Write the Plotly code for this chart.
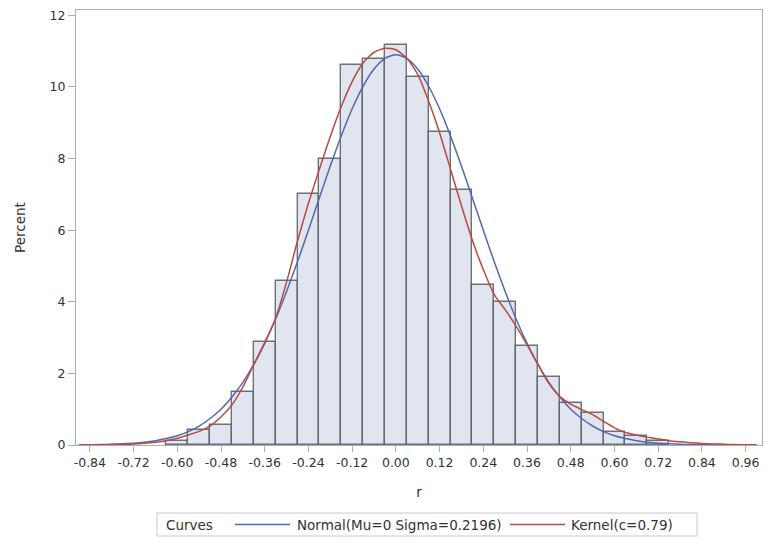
import plotly.graph_objects as go

# Histogram bins (centers, percent)
bin_centers = [-0.60, -0.54, -0.48, -0.42, -0.36, -0.30, -0.24, -0.18, -0.12, -0.06,
               0.00, 0.06, 0.12, 0.18, 0.24, 0.30, 0.36, 0.42, 0.48, 0.54, 0.60, 0.66, 0.72]
bin_percent = [0.11, 0.43, 0.56, 1.47, 2.87, 4.59, 7.02, 8.00, 10.60, 10.79,
               11.18, 10.28, 8.74, 7.13, 4.47, 4.00, 2.76, 1.89, 1.16, 0.90, 0.37, 0.25, 0.10]
bin_width = 0.06

# Curve grid
curve_x = [-0.87, -0.84, -0.81, -0.78, -0.75, -0.72, -0.69, -0.66, -0.63, -0.60,
           -0.57, -0.54, -0.51, -0.48, -0.45, -0.42, -0.39, -0.36, -0.33, -0.30,
           -0.27, -0.24, -0.21, -0.18, -0.15, -0.12, -0.09, -0.06, -0.03, 0.00,
           0.03, 0.06, 0.09, 0.12, 0.15, 0.18, 0.21, 0.24, 0.27, 0.30,
           0.33, 0.36, 0.39, 0.42, 0.45, 0.48, 0.51, 0.54, 0.57, 0.60,
           0.63, 0.66, 0.69, 0.72, 0.75, 0.78, 0.81, 0.84, 0.87, 0.90,
           0.93, 0.96, 0.99]
normal_y = [0.004, 0.007, 0.012, 0.020, 0.032, 0.050, 0.078, 0.12, 0.18, 0.26,
            0.375, 0.53, 0.74, 1.00, 1.34, 1.75, 2.25, 2.84, 3.52, 4.29,
            5.12, 6.00, 6.90, 7.79, 8.63, 9.39, 10.02, 10.50, 10.80, 10.90,
            10.80, 10.50, 10.02, 9.39, 8.63, 7.79, 6.90, 6.00, 5.12, 4.29,
            3.52, 2.84, 2.25, 1.75, 1.34, 1.00, 0.74, 0.53, 0.375, 0.26,
            0.18, 0.12, 0.078, 0.050, 0.032, 0.020, 0.012, 0.007, 0.004, 0.002,
            0.001, 0.0005, 0.0002]
kernel_y = [0.002, 0.004, 0.007, 0.012, 0.020, 0.030, 0.050, 0.080, 0.12, 0.19,
            0.28, 0.38, 0.53, 0.78, 1.12, 1.62, 2.25, 2.86, 3.55, 4.55,
            5.70, 6.75, 7.70, 8.62, 9.45, 10.15, 10.67, 10.97, 11.08, 11.04,
            10.80, 10.35, 9.60, 8.72, 7.70, 6.68, 5.72, 4.90, 4.20, 3.78,
            3.32, 2.80, 2.25, 1.72, 1.35, 1.14, 0.99, 0.85, 0.66, 0.48,
            0.35, 0.28, 0.22, 0.17, 0.12, 0.09, 0.065, 0.045, 0.030, 0.020,
            0.012, 0.007, 0.004]

x_tickvals = [-0.84, -0.72, -0.60, -0.48, -0.36, -0.24, -0.12, 0.00, 0.12, 0.24, 0.36, 0.48, 0.60, 0.72, 0.84, 0.96]
x_ticktext = ["-0.84", "-0.72", "-0.60", "-0.48", "-0.36", "-0.24", "-0.12", "0.00",
              "0.12", "0.24", "0.36", "0.48", "0.60", "0.72", "0.84", "0.96"]
y_tickvals = [0, 2, 4, 6, 8, 10, 12]

legend_title = "Curves"
normal_label = "Normal(Mu=0 Sigma=0.2196)"
kernel_label = "Kernel(c=0.79)"

FONT = "DejaVu Sans, Verdana, sans-serif"
AXIS_COLOR = "#A9AEB3"
TEXT_COLOR = "#333333"
BLUE = "#5468B0"
RED = "#B84A40"

W, H = 765, 549
ML, MR, MT, MB = 76, 3, 10, 104
PW, PH = W - ML - MR, H - MT - MB


def px(x):
    return (x - ML) / PW


def py(y):
    return (H - MB - y) / PH


fig = go.Figure()
fig.add_trace(go.Bar(
    x=bin_centers, y=bin_percent, width=[bin_width] * len(bin_centers),
    marker=dict(color="rgb(224,229,240)", line=dict(color="rgba(85,90,95,0.85)", width=1.4)),
    showlegend=False, hoverinfo="skip",
))
fig.add_trace(go.Scatter(
    x=curve_x, y=normal_y, mode="lines", name=normal_label, showlegend=False,
    line=dict(color=BLUE, width=1.5, shape="spline", smoothing=0.6),
))
fig.add_trace(go.Scatter(
    x=curve_x, y=kernel_y, mode="lines", name=kernel_label, showlegend=False,
    line=dict(color=RED, width=1.5, shape="spline", smoothing=0.6),
))

# Legend box drawn below the plot
ly = 524.5
shapes = [
    dict(type="rect", xref="paper", yref="paper", x0=px(157), x1=px(697), y0=py(513), y1=py(536),
         line=dict(color="#C8C8C8", width=1), fillcolor="white", layer="above"),
    dict(type="line", xref="paper", yref="paper", x0=px(235), x1=px(290), y0=py(ly), y1=py(ly),
         line=dict(color=BLUE, width=1.5)),
    dict(type="line", xref="paper", yref="paper", x0=px(510), x1=px(565), y0=py(ly), y1=py(ly),
         line=dict(color=RED, width=1.5)),
]
annotations = [
    dict(text=legend_title, xref="paper", yref="paper", x=px(164), y=py(ly), xanchor="left",
         yanchor="middle", showarrow=False, font=dict(size=13.5, color=TEXT_COLOR)),
    dict(text=normal_label, xref="paper", yref="paper", x=px(295), y=py(ly), xanchor="left",
         yanchor="middle", showarrow=False, font=dict(size=13.5, color=TEXT_COLOR)),
    dict(text=kernel_label, xref="paper", yref="paper", x=px(569), y=py(ly), xanchor="left",
         yanchor="middle", showarrow=False, font=dict(size=13.5, color=TEXT_COLOR)),
]

fig.update_layout(
    width=W, height=H,
    margin=dict(l=ML, r=MR, t=MT, b=MB),
    paper_bgcolor="white", plot_bgcolor="white",
    font=dict(family=FONT, size=12.5, color=TEXT_COLOR),
    bargap=0,
    showlegend=False,
    shapes=shapes,
    annotations=annotations,
    xaxis=dict(
        range=[-0.878, 1.005], tickvals=x_tickvals, ticktext=x_ticktext,
        showline=True, linecolor=AXIS_COLOR, linewidth=1.2, mirror=True,
        ticks="outside", ticklen=6, tickcolor=AXIS_COLOR, showgrid=False, zeroline=False,
        title=dict(text="r", standoff=18, font=dict(size=13.5)), tickfont=dict(size=12.5),
    ),
    yaxis=dict(
        range=[0, 12.15], tickvals=y_tickvals,
        showline=True, linecolor=AXIS_COLOR, linewidth=1.2, mirror=True,
        ticks="outside", ticklen=7, tickcolor=AXIS_COLOR, showgrid=False, zeroline=False,
        title=dict(text="Percent", standoff=20, font=dict(size=13.5)), tickfont=dict(size=12.5),
    ),
)

fig.write_html("out.html")
